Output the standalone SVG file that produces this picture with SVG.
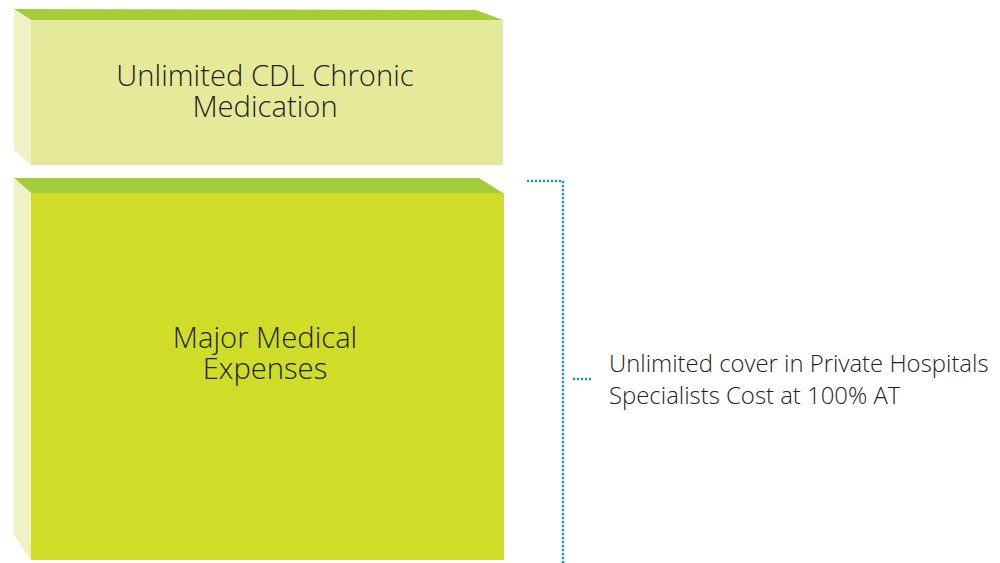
<svg xmlns="http://www.w3.org/2000/svg" width="1000" height="563" viewBox="0 0 1000 563">
<style>
.top{fill:#A3CD3A}
.side{fill:#EEF2C4}
.lbl{font-family:"Open Sans","Noto Sans",sans-serif;fill:#231F20;font-weight:300}
.big{font-size:29.2px;text-anchor:middle}
.note{font-size:23.9px}
.dot{fill:none;stroke:#1A97B2;stroke-width:2.4;stroke-dasharray:2.2 1.8}
</style>
<rect width="1000" height="563" fill="#FFFFFF"/>
<g id="node-cdl">
<polygon class="top" points="14,9 476,10 503,20 31,20"/>
<polygon class="side" points="14,9 31,20 31,165 14,150"/>
<rect x="31" y="20" width="472" height="145" fill="#E5EA9A"/>
<text class="lbl big"><tspan x="265" y="86">Unlimited CDL Chronic</tspan><tspan x="265" y="117">Medication</tspan></text>
</g>
<g id="node-major">
<polygon class="top" points="14,178 479,178 503,193 31,193"/>
<polygon class="side" points="14,178 31,193 31,560 14,535"/>
<rect x="31" y="193" width="473" height="367" fill="#CFDD28"/>
<text class="lbl big"><tspan x="265" y="348">Major Medical</tspan><tspan x="265" y="379">Expenses</tspan></text>
</g>
<g id="connectors">
<path class="dot" d="M527,181 H563 V563"/>
<path class="dot" d="M573,379 H591"/>
</g>
<g id="note">
<text class="lbl note"><tspan x="609" y="372">Unlimited cover in Private Hospitals</tspan><tspan x="609" y="404">Specialists Cost at 100% AT</tspan></text>
</g>
</svg>
